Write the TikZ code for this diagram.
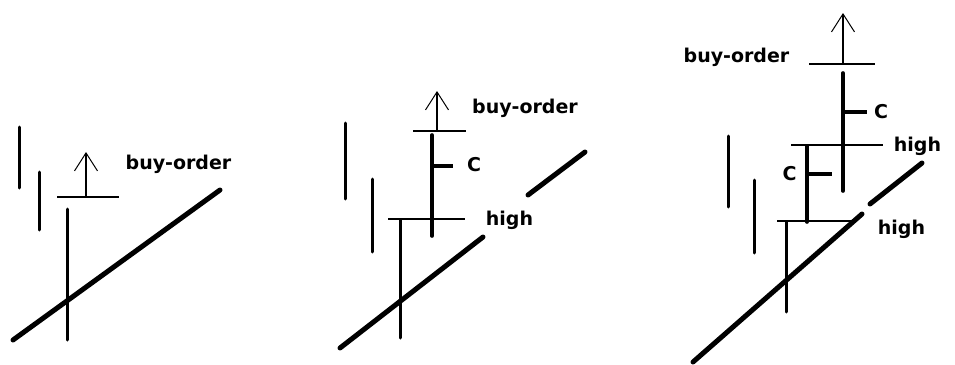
\documentclass[tikz,border=0pt]{standalone}
\usepackage{fontspec}
\setmainfont{DejaVu Sans}
\usetikzlibrary{arrows.meta}

\begin{document}
\begin{tikzpicture}[x=1pt,y=-1pt,line cap=round,
  bar/.style={line width=3pt},
  thickbar/.style={line width=3.6pt},
  level/.style={line width=1.6pt,line cap=butt},
  trend/.style={line width=5pt},
  rise/.style={line width=1.3pt,line cap=butt,-{Straight Barb[length=18pt,width=23pt,line width=1pt]}},
  lbl/.style={font=\fontsize{19}{22}\selectfont\bfseries,inner sep=0pt}]
  \useasboundingbox (0,0) rectangle (955,364);
  % first picture
  \draw[bar] (19,127) -- (19,188);
  \draw[bar] (39,172) -- (39,230);
  \draw[bar] (67,209) -- (67,340);
  \draw[trend] (13,340) -- (220,190);
  \draw[level] (57,197) -- (119,197);
  \coordinate (o1) at (86,197);
  \coordinate (t1) at (86,152);
  \draw[rise] (o1) -- (t1);
  \node[lbl] (buy1) at (178.5,164) {buy-order};
  % second picture
  \draw[bar] (345,123) -- (345,199);
  \draw[bar] (372,179) -- (372,252);
  \draw[bar] (400,220) -- (400,338);
  \draw[trend] (340,348) -- (483,237);
  \draw[trend] (528,195) -- (585,152);
  \draw[level] (388,219) -- (465,219);
  \draw[thickbar] (432,135) -- (432,236);
  \draw[thickbar,line cap=butt] (432,166) -- (453,166);
  \node[lbl] (c2) at (474,165) {C};
  \draw[level] (413,131) -- (466,131);
  \coordinate (o2) at (437,131);
  \coordinate (t2) at (437,91);
  \draw[rise] (o2) -- (t2);
  \node[lbl] (buy2) at (525,108) {buy-order};
  \node[lbl] (high2) at (509.5,220) {high};
  % third picture
  \draw[bar] (728,136) -- (728,207);
  \draw[bar] (754,180) -- (754,253);
  \draw[bar] (786,222) -- (786,312);
  \draw[trend] (693,362) -- (862,214);
  \draw[trend] (870,204) -- (922,163);
  \draw[level] (777,221) -- (857,221);
  \draw[thickbar] (807,146) -- (807,222);
  \draw[thickbar,line cap=butt] (807,174) -- (832,174);
  \node[lbl] (c3a) at (789.5,174) {C};
  \draw[level] (791,145) -- (883,145);
  \draw[thickbar] (843,73) -- (843,191);
  \draw[thickbar,line cap=butt] (843,112) -- (867,112);
  \node[lbl] (c3b) at (881,112) {C};
  \draw[level] (809,64) -- (875,64);
  \coordinate (o3) at (843,64);
  \coordinate (t3) at (843,13);
  \draw[rise] (o3) -- (t3);
  \node[lbl] (buy3) at (736.5,57) {buy-order};
  \node[lbl] (high3a) at (917.5,146) {high};
  \node[lbl] (high3b) at (901.5,229) {high};
\end{tikzpicture}
\end{document}
